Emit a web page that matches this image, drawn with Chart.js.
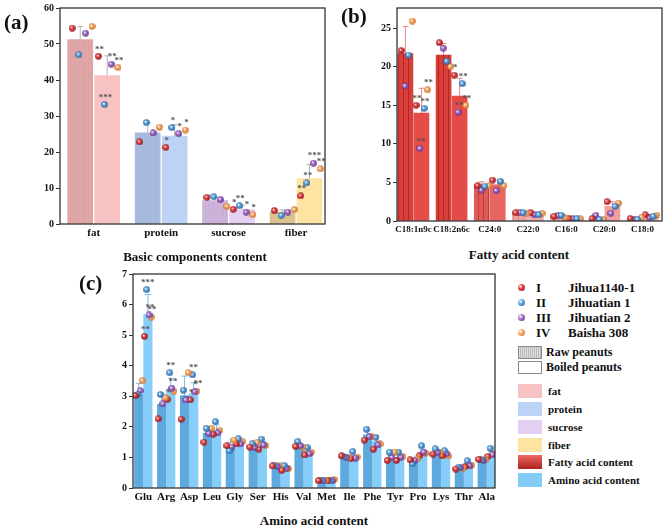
<!DOCTYPE html>
<html lang="en">
<head>
<meta charset="UTF-8">
<title>Raw vs boiled peanuts</title>
<script src="https://cdn.jsdelivr.net/npm/chart.js@4.4.0/dist/chart.umd.min.js"></script>
<style>
  body { margin: 0; background: #fff; }
  #page { position: relative; width: 667px; height: 529px; overflow: hidden;
          font-family: 'Liberation Serif', 'DejaVu Serif', serif; font-weight: bold; color: #111; }
  .panel { position: absolute; }
  .txt { position: absolute; white-space: nowrap; }
  .ctr { transform: translateX(-50%); }
  .sph { position: absolute; width: 7px; height: 7px; border-radius: 50%; }
  .swatch { position: absolute; left: 518px; width: 24px; height: 14px; }
</style>
</head>
<body>
<div id="page">
  <div class="panel" style="left:28px; top:0; width:302px; height:242px;"><canvas id="chartA"></canvas></div>
  <div class="panel" style="left:363px; top:0; width:304px; height:240px;"><canvas id="chartB"></canvas></div>
  <div class="panel" style="left:98px; top:266px; width:402px; height:242px;"><canvas id="chartC"></canvas></div>

  <div class="txt" style="left:4px; top:10px; font-size:21px;">(a)</div>
  <div class="txt" style="left:341px; top:4px; font-size:21px;">(b)</div>
  <div class="txt" style="left:79px; top:271px; font-size:21px;">(c)</div>

  <div class="txt ctr" style="left:195px; top:249px; font-size:13px;">Basic components content</div>
  <div class="txt ctr" style="left:519px; top:247px; font-size:13px;">Fatty acid content</div>
  <div class="txt ctr" style="left:314px; top:513px; font-size:13px;">Amino acid content</div>

  <!-- legend -->
  <div class="sph" style="left:518px; top:284px; background:radial-gradient(circle at 35% 35%, #fff 0%, #e84a4a 35%, #8a0f14 100%);"></div>
  <div class="sph" style="left:518px; top:299px; background:radial-gradient(circle at 35% 35%, #fff 0%, #6aaee8 35%, #1e5a96 100%);"></div>
  <div class="sph" style="left:518px; top:314px; background:radial-gradient(circle at 35% 35%, #fff 0%, #b07ad0 35%, #5a2a80 100%);"></div>
  <div class="sph" style="left:518px; top:329px; background:radial-gradient(circle at 35% 35%, #fff 0%, #f8b070 35%, #c86a20 100%);"></div>
  <div class="txt" style="left:536px; top:280px; font-size:13px;">I</div>
  <div class="txt" style="left:536px; top:295px; font-size:13px;">II</div>
  <div class="txt" style="left:536px; top:310px; font-size:13px;">III</div>
  <div class="txt" style="left:536px; top:325px; font-size:13px;">IV</div>
  <div class="txt" style="left:568px; top:280px; font-size:13px;">Jihua1140-1</div>
  <div class="txt" style="left:568px; top:295px; font-size:13px;">Jihuatian 1</div>
  <div class="txt" style="left:568px; top:310px; font-size:13px;">Jihuatian 2</div>
  <div class="txt" style="left:568px; top:325px; font-size:13px;">Baisha 308</div>

  <div class="swatch" style="top:346px; height:11px; border:1px solid #888; width:22px;
       background:repeating-linear-gradient(90deg, #ddd 0 1px, #bbb 1px 2px);"></div>
  <div class="swatch" style="top:361px; height:11px; border:1px solid #888; width:22px; background:#fff;"></div>
  <div class="txt" style="left:546px; top:345px; font-size:12px;">Raw peanuts</div>
  <div class="txt" style="left:546px; top:360px; font-size:12px;">Boiled peanuts</div>

  <div class="swatch" style="top:384px; background:#f9c2c2;"></div>
  <div class="swatch" style="top:402px; background:#bcd3f5;"></div>
  <div class="swatch" style="top:420px; background:#e4d0f3;"></div>
  <div class="swatch" style="top:438px; background:#fde4a2;"></div>
  <div class="swatch" style="top:455px; background:linear-gradient(#ee6a66, #b0201e);"></div>
  <div class="swatch" style="top:473px; background:#84cbf8;"></div>
  <div class="txt" style="left:548px; top:385px; font-size:11px;">fat</div>
  <div class="txt" style="left:548px; top:403px; font-size:11px;">protein</div>
  <div class="txt" style="left:548px; top:421px; font-size:11px;">sucrose</div>
  <div class="txt" style="left:548px; top:439px; font-size:11px;">fiber</div>
  <div class="txt" style="left:548px; top:456px; font-size:11px;">Fatty acid content</div>
  <div class="txt" style="left:548px; top:474px; font-size:11px;">Amino acid content</div>
</div>

<script>
// ---------- (a) basic components ----------
const catsA = ['fat', 'protein', 'sucrose', 'fiber'];
const rawA = [51.2, 25.3, 6.5, 3.3];
const boiledA = [41.2, 24.4, 4.0, 12.6];
const rawSdA = [3.7, 2.8, 1.0, 0.6];
const boiledSdA = [5.5, 3.2, 1.2, 3.9];
// rows = cultivar I, II, III, IV
const rawDotsA = [
    [54.4, 22.8, 7.4, 3.7],
    [47.0, 28.2, 7.6, 2.4],
    [53.0, 25.3, 6.8, 3.3],
    [54.9, 26.9, 4.9, 4.0]
];
const boiledDotsA = [
    [46.6, 21.3, 4.1, 7.8],
    [33.2, 26.8, 5.1, 11.4],
    [44.4, 25.1, 3.3, 16.9],
    [43.5, 26.1, 2.6, 15.3]
];
const starsA = [
    ['**', '*', '*', '**'],
    ['***', '*', '**', '**'],
    ['**', '*', '*', '***'],
    ['**', '*', '*', '**']
];
const ticksA = [0, 10, 20, 30, 40, 50, 60];

// ---------- (b) fatty acids ----------
const catsB = ['C18:1n9c', 'C18:2n6c', 'C24:0', 'C22:0', 'C16:0', 'C20:0', 'C18:0'];
const rawB = [21.7, 21.5, 4.7, 1.07, 0.62, 0.36, 0.28];
const boiledB = [14.0, 16.2, 4.7, 0.85, 0.3, 1.9, 0.64];
const rawSdB = [3.5, 1.5, 0.4, 0.1, 0.15, 0.3, 0.2];
const boiledSdB = [3.2, 2.3, 0.6, 0.1, 0.1, 0.6, 0.2];
const rawDotsB = [
    [22.1, 23.1, 4.57, 1.07, 0.6, 0.3, 0.3],
    [21.5, 20.7, 4.5, 1.07, 0.73, 0.2, 0.2],
    [17.5, 22.4, 4.0, 1.07, 0.73, 0.73, 0.2],
    [25.9, 20.0, 4.57, 0.94, 0.43, 0.2, 0.43]
];
const boiledDotsB = [
    [15.0, 18.9, 5.3, 1.07, 0.3, 2.5, 0.8],
    [14.6, 17.8, 5.13, 0.8, 0.3, 1.9, 0.6],
    [9.4, 14.1, 3.93, 0.85, 0.3, 1.0, 0.43],
    [17.0, 15.0, 4.57, 1.0, 0.3, 2.3, 0.73]
];
const starsB = [
    ['**', '*', '', '', '', '', ''],
    ['**', '**', '', '', '', '', ''],
    ['**', '**', '', '', '', '', ''],
    ['**', '**', '', '', '', '', '']
];
const ticksB = [0, 5, 10, 15, 20, 25];

// ---------- (c) amino acids ----------
const catsC = ['Glu', 'Arg', 'Asp', 'Leu', 'Gly', 'Ser', 'His', 'Val', 'Met', 'Ile', 'Phe', 'Tyr', 'Pro', 'Lys', 'Thr', 'Ala'];
const rawC = [3.06, 2.74, 3.02, 1.79, 1.36, 1.34, 0.71, 1.36, 0.25, 1.03, 1.74, 0.98, 0.84, 1.14, 0.65, 0.92];
const boiledC = [5.68, 3.24, 3.09, 1.88, 1.49, 1.41, 0.63, 1.19, 0.25, 0.98, 1.52, 1.01, 1.14, 1.03, 0.76, 1.09];
const rawSdC = [0.36, 0.35, 0.64, 0.2, 0.14, 0.1, 0.05, 0.1, 0.03, 0.04, 0.15, 0.13, 0.08, 0.08, 0.05, 0.05];
const boiledSdC = [0.65, 0.35, 0.35, 0.18, 0.08, 0.1, 0.07, 0.1, 0.03, 0.1, 0.17, 0.1, 0.13, 0.08, 0.08, 0.12];
const rawDotsC = [
    [3.02, 2.26, 2.25, 1.50, 1.38, 1.34, 0.72, 1.36, 0.24, 1.05, 1.57, 0.90, 0.92, 1.11, 0.62, 0.94],
    [3.06, 3.06, 3.20, 1.95, 1.22, 1.44, 0.74, 1.52, 0.26, 1.02, 1.92, 1.17, 0.79, 1.28, 0.67, 0.92],
    [3.18, 2.75, 2.88, 1.79, 1.34, 1.34, 0.70, 1.38, 0.24, 1.00, 1.68, 1.00, 0.90, 1.17, 0.67, 0.90],
    [3.51, 2.95, 3.77, 1.95, 1.57, 1.49, 0.72, 1.34, 0.25, 1.00, 1.68, 1.17, 0.95, 1.17, 0.65, 0.92]
];
const boiledDotsC = [
    [4.96, 2.90, 2.88, 1.76, 1.44, 1.27, 0.58, 1.08, 0.25, 0.96, 1.27, 0.90, 1.05, 1.05, 0.70, 1.03],
    [6.49, 3.77, 3.70, 2.17, 1.61, 1.60, 0.74, 1.33, 0.23, 1.19, 1.66, 1.17, 1.38, 1.22, 0.89, 1.30],
    [5.66, 3.26, 3.15, 1.80, 1.44, 1.41, 0.65, 1.12, 0.24, 0.98, 1.41, 1.01, 1.17, 1.12, 0.73, 1.09],
    [5.59, 3.17, 3.17, 1.88, 1.52, 1.39, 0.63, 1.17, 0.28, 1.01, 1.44, 1.03, 1.14, 1.05, 0.75, 1.12]
];
const starsC = [
    ['**', '*', '*', '', '', '', '', '', '', '', '', '', '', '', '', ''],
    ['***', '**', '**', '', '', '', '', '', '', '', '', '', '', '', '', ''],
    ['**', '**', '*', '', '', '', '', '', '', '', '', '', '', '', '', ''],
    ['**', '', '**', '', '', '', '', '', '', '', '', '', '', '', '', '']
];
const ticksC = [0, 1, 2, 3, 4, 5, 6, 7];

// sphere markers for the four cultivars
function sphere(light, dark, size) {
    const c = document.createElement('canvas');
    c.width = c.height = size;
    const g = c.getContext('2d');
    const r = size / 2;
    const grad = g.createRadialGradient(r * 0.7, r * 0.7, 0.2, r, r, r);
    grad.addColorStop(0, '#ffffff');
    grad.addColorStop(0.35, light);
    grad.addColorStop(1, dark);
    g.fillStyle = grad;
    g.beginPath();
    g.arc(r, r, r - 0.2, 0, Math.PI * 2);
    g.fill();
    return c;
}
const balls = [
    sphere('#e84a4a', '#8a0f14', 7),
    sphere('#6aaee8', '#1e5a96', 7),
    sphere('#b07ad0', '#5a2a80', 7),
    sphere('#f8b070', '#c86a20', 7)
];

// vertical striped fill for raw bars
function stripes(base, line, step) {
    const c = document.createElement('canvas');
    c.width = step; c.height = 4;
    const g = c.getContext('2d');
    g.fillStyle = base; g.fillRect(0, 0, step, 4);
    g.fillStyle = line; g.fillRect(0, 0, 1, 4);
    return g.createPattern(c, 'repeat');
}

const extras = {
    id: 'extras',
    beforeDatasetsDraw(chart, args, o) {
        const ctx = chart.ctx, y = chart.scales.y;
        [0, 1].forEach(di => {
            const sd = o.sd[di];
            chart.getDatasetMeta(di).data.forEach((bar, j) => {
                const mean = chart.data.datasets[di].data[j].y;
                const top = y.getPixelForValue(mean + sd[j]);
                ctx.save();
                ctx.strokeStyle = o.errColor;
                ctx.lineWidth = 1;
                ctx.beginPath();
                ctx.moveTo(bar.x, bar.y); ctx.lineTo(bar.x, top);
                ctx.moveTo(bar.x - o.cap, top); ctx.lineTo(bar.x + o.cap, top);
                ctx.stroke();
                ctx.restore();
            });
        });
    },
    afterDatasetsDraw(chart, args, o) {
        const ctx = chart.ctx;
        ctx.save();
        ctx.fillStyle = '#555';
        ctx.font = 'bold 9px "Liberation Serif"';
        ctx.textAlign = 'center';
        ctx.textBaseline = 'middle';
        for (let k = 0; k < 4; k++) {
            chart.getDatasetMeta(6 + k).data.forEach((pt, j) => {
                const s = o.stars[k][j];
                if (s) ctx.fillText(s, pt.x + 1, pt.y - 7);
            });
        }
        ctx.restore();
    },
    afterDraw(chart) {
        const a = chart.chartArea, ctx = chart.ctx;
        ctx.save();
        ctx.strokeStyle = '#333';
        ctx.lineWidth = 1.3;
        ctx.strokeRect(a.left, a.top, a.right - a.left, a.bottom - a.top);
        ctx.restore();
    }
};

function makePanel(id, p) {
    const bar = (vals, pos, color) => ({
        data: vals.map((v, j) => ({ x: j + pos, y: v })),
        backgroundColor: color, order: 10, grouped: false, barThickness: p.barW
    });
    const sets = [bar(p.raw, -p.barPos, p.rawColor), bar(p.boiled, p.barPos, p.boiledColor)];
    [[p.rawDots, p.rawOff], [p.boiledDots, p.boiledOff]].forEach(([dots, off]) => {
        dots.forEach((vals, k) => {
            sets.push({
                type: 'scatter', order: 0,
                data: vals.map((v, j) => ({ x: j + off[k], y: v })),
                pointStyle: balls[k], pointRadius: 3.5
            });
        });
    });
    return new Chart(document.getElementById(id), {
        type: 'bar',
        data: { datasets: sets },
        options: {
            responsive: true,
            maintainAspectRatio: false,
            animation: false,
            layout: { padding: { top: p.padTop, right: p.padRight, left: 0, bottom: 0 } },
            plugins: {
                legend: { display: false },
                tooltip: { enabled: false },
                extras: { sd: [p.rawSd, p.boiledSd], errColor: p.errColor, cap: p.cap, stars: p.stars }
            },
            scales: {
                x: {
                    type: 'linear', min: p.xMin, max: p.xMax, offset: false,
                    grid: { display: false, drawTicks: false, offset: false },
                    border: { display: false },
                    ticks: { color: '#111', padding: 3, maxRotation: 0, autoSkip: false,
                             callback: v => p.cats[v],
                             font: { family: 'Liberation Serif', weight: 'bold', size: p.xFont } },
                    afterBuildTicks: s => { s.ticks = p.cats.map((c, i) => ({ value: i })); },
                    afterFit: s => { s.height = p.xHeight; }
                },
                y: {
                    min: 0, max: p.yMax,
                    grid: { drawOnChartArea: false, drawTicks: true, tickLength: 4, color: '#333' },
                    border: { display: false },
                    ticks: { color: '#111', padding: 2,
                             font: { family: 'Liberation Serif', weight: 'bold', size: 10 } },
                    afterBuildTicks: s => { s.ticks = p.ticks.map(v => ({ value: v })); },
                    afterFit: s => { s.width = p.yWidth; }
                }
            }
        },
        plugins: [extras]
    });
}

makePanel('chartA', {
    cats: catsA, raw: rawA, boiled: boiledA, rawSd: rawSdA, boiledSd: boiledSdA,
    rawDots: rawDotsA, boiledDots: boiledDotsA, stars: starsA, ticks: ticksA, yMax: 60,
    rawColor: [stripes('#e0a7a7', '#dba1a1', 3), stripes('#a7bcdf', '#a1b6da', 3),
               stripes('#cdb4db', '#c8aed6', 3), stripes('#dcc491', '#d7be8b', 3)],
    boiledColor: ['#f9c2c2', '#bcd3f5', '#e4d0f3', '#fde4a2'],
    xMin: -0.5, xMax: 3.43, barPos: 0.2, barW: 25,
    rawOff: [-0.32, -0.22, -0.12, -0.025], boiledOff: [0.07, 0.16, 0.26, 0.36],
    errColor: '#b9b0b0', cap: 3,
    padTop: 6, padRight: 4, yWidth: 32, xHeight: 18, xFont: 11
});

makePanel('chartB', {
    cats: catsB, raw: rawB, boiled: boiledB, rawSd: rawSdB, boiledSd: boiledSdB,
    rawDots: rawDotsB, boiledDots: boiledDotsB, stars: starsB, ticks: ticksB, yMax: 27.6,
    rawColor: [stripes('#d83e3a', '#b22624', 5), stripes('#d83e3a', '#b22624', 5),
               stripes('#e05a56', '#c03c38', 5), stripes('#eda4a2', '#d88886', 5),
               stripes('#efaeac', '#dc9492', 5), stripes('#f2bcbc', '#e0a2a2', 5),
               stripes('#f2bcbc', '#e0a2a2', 5)],
    boiledColor: ['#e64c48', '#e44a46', '#e86662', '#eeaaa8', '#f2b8b6', '#efa09e', '#f2b8b6'],
    xMin: -0.43, xMax: 6.51, barPos: 0.21, barW: 15,
    rawOff: [-0.32, -0.13, -0.22, -0.03], boiledOff: [0.07, 0.28, 0.17, 0.37],
    errColor: '#e88a88', cap: 3,
    padTop: 5, padRight: 4, yWidth: 34, xHeight: 19, xFont: 9
});

makePanel('chartC', {
    cats: catsC, raw: rawC, boiled: boiledC, rawSd: rawSdC, boiledSd: boiledSdC,
    rawDots: rawDotsC, boiledDots: boiledDotsC, stars: starsC, ticks: ticksC, yMax: 7,
    rawColor: '#5eaadf',
    boiledColor: '#86cdf9',
    xMin: -0.45, xMax: 15.36, barPos: 0.2, barW: 8.5,
    rawOff: [-0.35, -0.25, -0.14, -0.04], boiledOff: [0.05, 0.15, 0.25, 0.34],
    errColor: '#7cbde8', cap: 3,
    padTop: 7, padRight: 4, yWidth: 35, xHeight: 20, xFont: 11
});
</script>
</body>
</html>
